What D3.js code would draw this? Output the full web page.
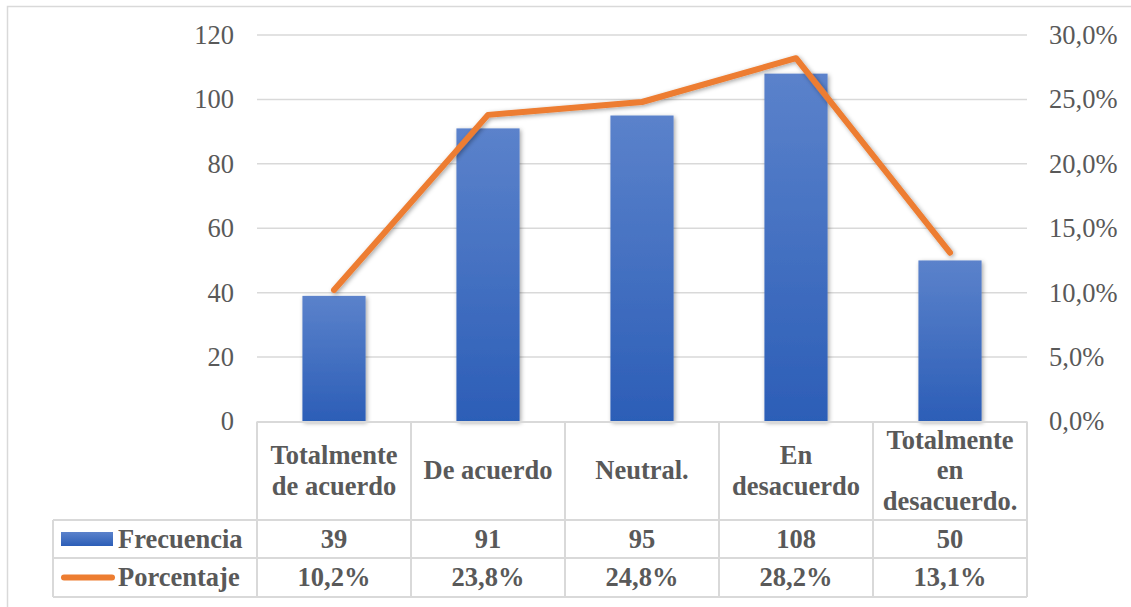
<!DOCTYPE html>
<html>
<head>
<meta charset="utf-8">
<script src="https://cdn.jsdelivr.net/npm/d3@7/dist/d3.min.js"></script>
<style>
  html, body { margin: 0; padding: 0; background: #fff; }
  svg { display: block; }
  text { font-family: "Liberation Serif", "DejaVu Serif", serif; fill: #595959; }
</style>
</head>
<body>
<svg id="chart" width="1131" height="607"></svg>
<script>
const categories = [["Totalmente", "de acuerdo"], ["De acuerdo"], ["Neutral."], ["En", "desacuerdo"], ["Totalmente", "en", "desacuerdo."]];
const frecuencia = [39, 91, 95, 108, 50];
const porcentaje = [10.2, 23.8, 24.8, 28.2, 13.1];
const porcentajeLabels = ["10,2%", "23,8%", "24,8%", "28,2%", "13,1%"];
const leftTicks = [0, 20, 40, 60, 80, 100, 120];
const rightTicks = [0, 5, 10, 15, 20, 25, 30];
const seriesNames = ["Frecuencia", "Porcentaje"];

const FONT = '"Liberation Serif", "DejaVu Serif", serif';
const svg = d3.select("#chart");
const fs = 26.5;
const plot = { left: 257, right: 1027, top: 35, bottom: 421.5 };
const table = { legendLeft: 53, headerBottom: 520, row1Bottom: 558, row2Bottom: 597 };

const defs = svg.append("defs");
const grad = defs.append("linearGradient").attr("id", "barGrad").attr("x1", 0).attr("y1", 0).attr("x2", 0).attr("y2", 1);
grad.append("stop").attr("offset", "0%").attr("stop-color", "#5b82cb");
grad.append("stop").attr("offset", "100%").attr("stop-color", "#2c5eb7");
const sh = defs.append("filter").attr("id", "shadow").attr("x", "-20%").attr("y", "-20%").attr("width", "140%").attr("height", "140%");
sh.append("feDropShadow").attr("dx", 1.5).attr("dy", 1.5).attr("stdDeviation", 2).attr("flood-color", "#000").attr("flood-opacity", 0.35);

// outer border
svg.append("rect").attr("x", 7.5).attr("y", 6.5).attr("width", 1300).attr("height", 800)
  .attr("fill", "none").attr("stroke", "#d9d9d9").attr("stroke-width", 1.5);

const x = d3.scaleBand().domain(d3.range(categories.length)).range([plot.left, plot.right])
  .paddingInner(0.59).paddingOuter(0.295);
const xs = d3.scaleBand().domain(d3.range(categories.length)).range([plot.left, plot.right]);
const yL = d3.scaleLinear().domain([0, 120]).range([plot.bottom, plot.top]);
const yR = d3.scaleLinear().domain([0, 30]).range([plot.bottom, plot.top]);

// gridlines
svg.append("g").selectAll("line").data(leftTicks.filter(d => d > 0)).join("line")
  .attr("x1", plot.left).attr("x2", plot.right)
  .attr("y1", d => yL(d)).attr("y2", d => yL(d))
  .attr("stroke", "#d9d9d9").attr("stroke-width", 1.5);

// left axis
const axL = svg.append("g").attr("transform", `translate(${plot.left - 23},0)`)
  .call(d3.axisLeft(yL).tickValues(leftTicks).tickSize(0).tickPadding(0));
axL.attr("font-family", FONT).attr("font-size", fs);
axL.select(".domain").remove();
axL.selectAll("text").style("font-size", fs + "px").attr("fill", "#595959").style("font-family", FONT);

// right axis
const axR = svg.append("g").attr("transform", `translate(${plot.right + 22},0)`)
  .call(d3.axisRight(yR).tickValues(rightTicks).tickSize(0).tickPadding(0)
    .tickFormat(d => d3.format(".1f")(d).replace(".", ",") + "%"));
axR.attr("font-family", FONT).attr("font-size", fs);
axR.select(".domain").remove();
axR.selectAll("text").style("font-size", fs + "px").attr("fill", "#595959").style("font-family", FONT);

// bars
svg.append("g").selectAll("rect").data(frecuencia).join("rect")
  .attr("x", (d, i) => x(i)).attr("width", x.bandwidth())
  .attr("y", d => yL(d)).attr("height", d => yL(0) - yL(d))
  .attr("fill", "url(#barGrad)").attr("filter", "url(#shadow)");

// line
const line = d3.line().x((d, i) => xs(i) + xs.bandwidth() / 2).y(d => yR(d));
svg.append("path").datum(porcentaje).attr("d", line)
  .attr("fill", "none").attr("stroke", "#ed7d31").attr("stroke-width", 6)
  .attr("stroke-linejoin", "round").attr("stroke-linecap", "round").attr("filter", "url(#shadow)");

// table lines
const tg = svg.append("g").attr("stroke", "#d9d9d9").attr("stroke-width", 2);
tg.append("line").attr("x1", plot.left).attr("x2", plot.right).attr("y1", plot.bottom + 0.5).attr("y2", plot.bottom + 0.5);
[table.headerBottom, table.row1Bottom, table.row2Bottom].forEach(yv => {
  tg.append("line").attr("x1", table.legendLeft).attr("x2", plot.right).attr("y1", yv).attr("y2", yv);
});
tg.append("line").attr("x1", table.legendLeft).attr("x2", table.legendLeft).attr("y1", table.headerBottom).attr("y2", table.row2Bottom);
d3.range(categories.length + 1).forEach(i => {
  const xv = i < categories.length ? xs(i) : plot.right;
  tg.append("line").attr("x1", xv).attr("x2", xv).attr("y1", plot.bottom).attr("y2", table.row2Bottom);
});

// header text
const lh = 30.5;
const headCenter = (plot.bottom + table.headerBottom) / 2;
categories.forEach((lines, i) => {
  const cx = xs(i) + xs.bandwidth() / 2;
  const t = svg.append("text").attr("text-anchor", "middle").style("font-size", fs + "px").style("font-weight", "bold");
  lines.forEach((ln, j) => {
    t.append("tspan").attr("x", cx)
      .attr("y", headCenter - (lines.length - 1) / 2 * lh + j * lh + 0.33 * fs).text(ln);
  });
});

// value rows
const r1c = (table.headerBottom + table.row1Bottom) / 2;
const r2c = (table.row1Bottom + table.row2Bottom) / 2;
svg.append("g").selectAll("text").data(frecuencia).join("text")
  .attr("x", (d, i) => xs(i) + xs.bandwidth() / 2).attr("y", r1c + 0.33 * fs)
  .attr("text-anchor", "middle").style("font-size", fs + "px").style("font-weight", "bold").text(d => d);
svg.append("g").selectAll("text").data(porcentajeLabels).join("text")
  .attr("x", (d, i) => xs(i) + xs.bandwidth() / 2).attr("y", r2c + 0.33 * fs)
  .attr("text-anchor", "middle").style("font-size", fs + "px").style("font-weight", "bold").text(d => d);

// legend keys
svg.append("rect").attr("x", 61).attr("y", r1c - 7).attr("width", 52).attr("height", 14).attr("fill", "url(#barGrad)");
svg.append("line").attr("x1", 64).attr("x2", 112).attr("y1", r2c).attr("y2", r2c)
  .attr("stroke", "#ed7d31").attr("stroke-width", 6).attr("stroke-linecap", "round");
svg.append("text").attr("x", 118).attr("y", r1c + 0.33 * fs).style("font-size", fs + "px").style("font-weight", "bold").text(seriesNames[0]);
svg.append("text").attr("x", 118).attr("y", r2c + 0.33 * fs).style("font-size", fs + "px").style("font-weight", "bold").text(seriesNames[1]);
</script>
</body>
</html>
